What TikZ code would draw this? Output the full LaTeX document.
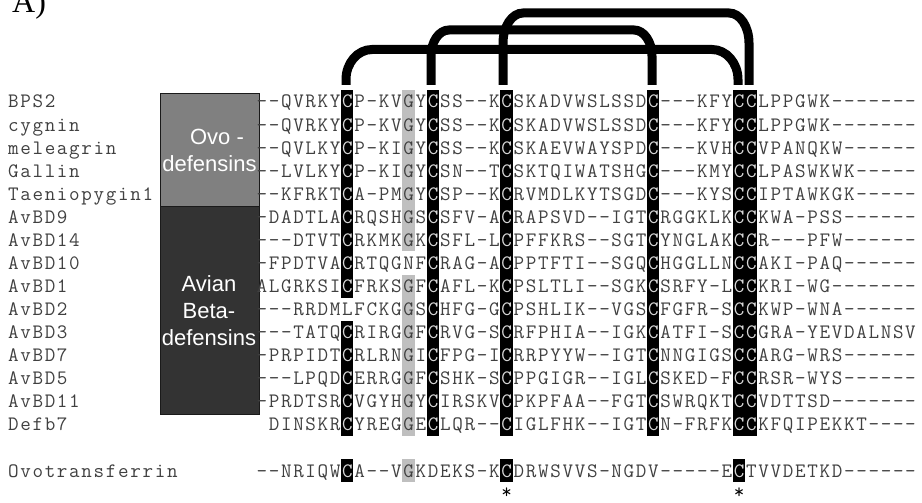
\documentclass[tikz,border=0pt]{standalone}
\usepackage{fontspec}
\setmainfont{Liberation Serif}
\newfontfamily\boxfont{Liberation Sans}
\newfontfamily\seqfont{Latin Modern Mono}
\definecolor{seqtext}{HTML}{404040}
\definecolor{hitext}{HTML}{D8D8D8}
\definecolor{greycol}{HTML}{BFBFBF}
\definecolor{ovofill}{HTML}{808080}
\definecolor{avfill}{HTML}{333333}
\definecolor{boxedge}{HTML}{1A1A1A}
\makeatletter
\def\sq#1{\ifx#1\relax\else\sq@c#1\expandafter\sq\fi}
\def\sq@c#1{\makebox[12.24pt][c]{\if!#1\textcolor{hitext}{C}\else#1\fi}}
\makeatother
\newcommand\colbar[5]{\fill[#1] ({255.5+#2*12.24},{90+(#3-1)*23.07}) rectangle ({255.5+(#2+#5)*12.24},{90+#4*23.07});}
\newcommand\brg[6]{\coordinate (#6l) at (#1,85); \coordinate (#6r) at (#2,85);
  \draw[bridge] (#6l) -- ({#1},{#3+#5}) .. controls ({#1},{#3+0.448*#5}) and ({#1+0.448*#4},{#3}) .. ({#1+#4},{#3}) -- ({#2-#4},{#3}) .. controls ({#2-0.448*#4},{#3}) and ({#2},{#3+0.448*#5}) .. ({#2},{#3+#5}) -- (#6r);}
\begin{document}
\begin{tikzpicture}[x=1pt,y=-1pt,
  seq/.style={anchor=base west,inner sep=0pt,font=\seqfont\fontsize{20.5}{23}\selectfont,text=seqtext},
  grpbox/.style={draw=boxedge,line width=1.3pt,anchor=north west,inner sep=0pt,minimum width=99pt},
  grptxt/.style={text=white,font=\boxfont\fontsize{22}{27}\selectfont,align=center,inner sep=0pt},
  bridge/.style={line width=9pt,draw=black}]
\useasboundingbox (0,0) rectangle (922,503);
% column highlights
\colbar{black}{7}{1}{9}{1}
\colbar{black}{7}{11}{15}{1}
\colbar{black}{7}{17}{17}{1}
\colbar{greycol}{12}{1}{7}{1}
\colbar{greycol}{12}{9}{15}{1}
\colbar{greycol}{12}{17}{17}{1}
\colbar{black}{14}{1}{15}{1}
\colbar{black}{20}{1}{15}{1}
\colbar{black}{20}{17}{17}{1}
\colbar{black}{32}{1}{15}{1}
\colbar{black}{39}{1}{15}{2}
\colbar{black}{39}{17}{17}{1}
% group boxes
\node[grpbox,fill=ovofill,minimum height=113pt] (ovo) at (160,93) {};
\node[grpbox,fill=avfill,minimum height=208pt] (avian) at (160,206) {};
\node[grptxt] (ovotxt) at (209.5,150) {\hspace*{15pt}Ovo -\\defensins};
\node[grptxt] (aviantxt) at (209,311) {Avian\\Beta-\\defensins};
% title
\node[anchor=base west,inner sep=0pt,font=\fontsize{32}{32}\selectfont] (title) at (12,13) {A)};
% labels and sequences
\foreach \i/\name in {1/BPS2,2/cygnin,3/meleagrin,4/Gallin,5/Taeniopygin1,6/AvBD9,7/AvBD14,8/AvBD10,9/AvBD1,10/AvBD2,11/AvBD3,12/AvBD7,13/AvBD5,14/AvBD11,15/Defb7,17/Ovotransferrin}
  \node[seq] (l\i) at (7,{108+(\i-1)*23.07}) {\expandafter\sq\name\relax};
\node[seq] (s1) at (255.5,108) {\sq --QVRKY!P-KVGY!SS--K!SKADVWSLSSD!---KFY!!LPPGWK-------\relax};
\node[seq] (s2) at (255.5,{108+1*23.07}) {\sq --QVRKY!P-KVGY!SS--K!SKADVWSLSSD!---KFY!!LPPGWK-------\relax};
\node[seq] (s3) at (255.5,{108+2*23.07}) {\sq --QVLKY!P-KIGY!SS--K!SKAEVWAYSPD!---KVH!!VPANQKW------\relax};
\node[seq] (s4) at (255.5,{108+3*23.07}) {\sq --LVLKY!P-KIGY!SN--T!SKTQIWATSHG!---KMY!!LPASWKWK-----\relax};
\node[seq] (s5) at (255.5,{108+4*23.07}) {\sq --KFRKT!A-PMGY!SP--K!RVMDLKYTSGD!---KYS!!IPTAWKGK-----\relax};
\node[seq] (s6) at (255.5,{108+5*23.07}) {\sq -DADTLA!RQSHGS!SFV-A!RAPSVD--IGT!RGGKLK!!KWA-PSS------\relax};
\node[seq] (s7) at (255.5,{108+6*23.07}) {\sq ---DTVT!RKMKGK!SFL-L!PFFKRS--SGT!YNGLAK!!R---PFW------\relax};
\node[seq] (s8) at (255.5,{108+7*23.07}) {\sq -FPDTVA!RTQGNF!RAG-A!PPTFTI--SGQ!HGGLLN!!AKI-PAQ------\relax};
\node[seq] (s9) at (255.5,{108+8*23.07}) {\sq ALGRKSI!FRKSGF!AFL-K!PSLTLI--SGK!SRFY-L!!KRI-WG-------\relax};
\node[seq] (s10) at (255.5,{108+9*23.07}) {\sq ---RRDMLFCKGGS!HFG-G!PSHLIK--VGS!FGFR-S!!KWP-WNA------\relax};
\node[seq] (s11) at (255.5,{108+10*23.07}) {\sq ---TATQ!RIRGGF!RVG-S!RFPHIA--IGK!ATFI-S!!GRA-YEVDALNSV\relax};
\node[seq] (s12) at (255.5,{108+11*23.07}) {\sq -PRPIDT!RLRNGI!FPG-I!RRPYYW--IGT!NNGIGS!!ARG-WRS------\relax};
\node[seq] (s13) at (255.5,{108+12*23.07}) {\sq ---LPQD!ERRGGF!SHK-S!PPGIGR--IGL!SKED-F!!RSR-WYS------\relax};
\node[seq] (s14) at (255.5,{108+13*23.07}) {\sq -PRDTSR!VGYHGY!IRSKV!PKPFAA--FGT!SWRQKT!!VDTTSD-------\relax};
\node[seq] (s15) at ({255.5+12.24},{108+14*23.07}) {\sq DINSKR!YREGGE!LQR--!IGLFHK--IGT!N-FRFK!!KFQIPEKKT----\relax};
\node[seq] (s17) at (255.5,{108+16*23.07}) {\sq --NRIQW!A--VGKDEKS-K!DRWSVVS-NGDV-----E!TVVDETKD------\relax};
\node[seq,text=black] (star1) at ({255.5+20*12.24},{106+17*23.07}) {\sq *\relax};
\node[seq,text=black] (star2) at ({255.5+39*12.24},{106+17*23.07}) {\sq *\relax};
% disulfide bridges
\brg{346}{738}{49.5}{26}{30}{b1}
\brg{431}{652}{30}{18}{26}{b2}
\brg{503}{749}{13}{20}{30}{b3}
\end{tikzpicture}
\end{document}
